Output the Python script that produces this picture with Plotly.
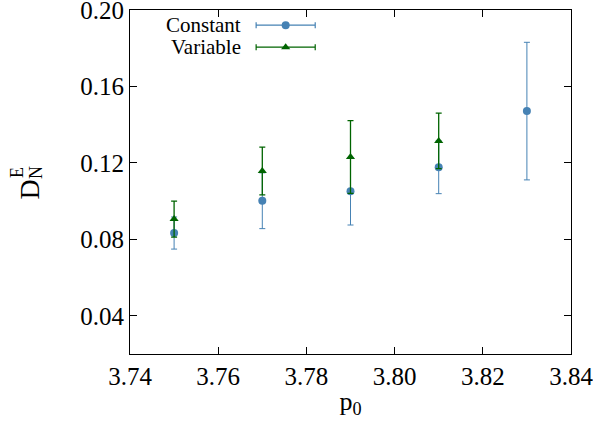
import plotly.graph_objects as go

p0 = [3.75, 3.77, 3.79, 3.81, 3.83]
const_y = [0.0833, 0.1002, 0.1051, 0.1177, 0.1471]
const_err = [0.0084, 0.0146, 0.0176, 0.0138, 0.0360]

p0_var = [3.75, 3.77, 3.79, 3.81]
var_y = [0.0906, 0.1158, 0.1231, 0.1315]
var_err = [0.0094, 0.0125, 0.0190, 0.0145]

x_ticks = [3.74, 3.76, 3.78, 3.80, 3.82, 3.84]
y_ticks = [0.04, 0.08, 0.12, 0.16, 0.20]

BLUE = "#4682b4"
GREEN = "#006400"
FONT = "Liberation Serif"

fig = go.Figure()
fig.add_trace(go.Scatter(
    x=p0, y=const_y, mode="markers", name="Constant",
    marker=dict(symbol="circle", size=8, color=BLUE),
    error_y=dict(type="data", array=const_err, color=BLUE, thickness=1, width=3),
    showlegend=False))
fig.add_trace(go.Scatter(
    x=p0_var, y=var_y, mode="markers", name="Variable",
    marker=dict(symbol="triangle-up", size=8, color=GREEN),
    error_y=dict(type="data", array=var_err, color=GREEN, thickness=1.3, width=3),
    showlegend=False))

# legend samples on an overlay axis (0..1)
leg_labels = ["Constant", "Variable"]
leg_y = [0.956, 0.892]
leg_colors = [BLUE, GREEN]
leg_symbols = ["circle", "triangle-up"]
for lab, ly, c, s in zip(leg_labels, leg_y, leg_colors, leg_symbols):
    fig.add_trace(go.Scatter(
        x=[0.353], y=[ly], xaxis="x2", yaxis="y2", mode="markers",
        marker=dict(symbol=s, size=8, color=c),
        error_x=dict(type="data", array=[0.067], color=c, thickness=1.2, width=3),
        showlegend=False, hoverinfo="skip"))
    fig.add_annotation(x=0.254, y=ly, xref="paper", yref="paper", text=lab,
                       showarrow=False, xanchor="right", yanchor="middle", borderpad=0,
                       font=dict(family=FONT, size=21, color="black"))

axis_common = dict(showline=True, linecolor="black", linewidth=1, mirror="ticks",
                   ticks="inside", ticklen=7, tickcolor="black", showgrid=False,
                   zeroline=False, ticklabeloverflow="allow", automargin=False,
                   tickfont=dict(family=FONT, size=25, color="black"))

fig.update_layout(
    width=593, height=426,
    margin=dict(l=130, r=22, t=10, b=72),
    paper_bgcolor="white", plot_bgcolor="white",
    font=dict(family=FONT, color="black"),
    xaxis=dict(range=[3.74 - 1e-9, 3.84 + 1e-9], tickvals=x_ticks, tickformat=".2f",
               title=dict(text="p<sub>0</sub>", font=dict(family=FONT, size=26, color="black"),
                          standoff=2),
               **axis_common),
    yaxis=dict(range=[0.02, 0.20 + 1e-9], tickvals=y_ticks, tickformat=".2f", **axis_common),
    xaxis2=dict(overlaying="x", range=[0, 1], visible=False, automargin=False),
    yaxis2=dict(overlaying="y", range=[0, 1], visible=False, automargin=False),
)

# stacked y-axis title D_N^E
fig.add_annotation(x=0, y=0.5, xref="paper", yref="paper", xshift=-119, yshift=-8,
                   text="D", textangle=-90, showarrow=False,
                   font=dict(family=FONT, size=28, color="black"))
fig.add_annotation(x=0, y=0.5, xref="paper", yref="paper", xshift=-125, yshift=9,
                   text="E", textangle=-90, showarrow=False,
                   font=dict(family=FONT, size=18, color="black"))
fig.add_annotation(x=0, y=0.5, xref="paper", yref="paper", xshift=-106, yshift=9,
                   text="N", textangle=-90, showarrow=False,
                   font=dict(family=FONT, size=18, color="black"))

fig.write_html("out.html")
